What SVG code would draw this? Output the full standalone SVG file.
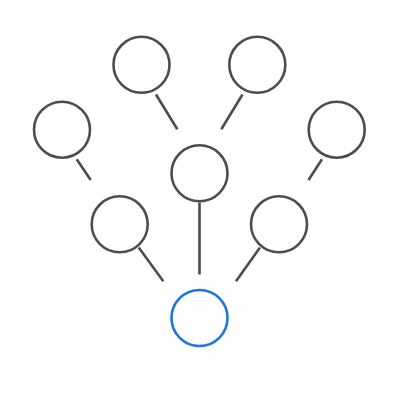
<svg xmlns="http://www.w3.org/2000/svg" width="400" height="400" viewBox="0 0 400 400">
<style>
.n{fill:#fff;stroke:#4d4d4d;stroke-width:2.6}
.root{fill:#fff;stroke:#1f74e0;stroke-width:2.6}
.e{stroke:#4d4d4d;stroke-width:2.6;stroke-linecap:butt}
</style>
<rect width="400" height="400" fill="#fff"/>
<g id="connectors">
<line class="e" x1="156" y1="94.5" x2="177.3" y2="129.3"/>
<line class="e" x1="242.5" y1="94.5" x2="221.3" y2="129.3"/>
<line class="e" x1="76.7" y1="159.3" x2="90.7" y2="180"/>
<line class="e" x1="322" y1="159.3" x2="308.5" y2="180"/>
<line class="e" x1="199.5" y1="202.5" x2="199.5" y2="274.5"/>
<line class="e" x1="138.7" y1="247.5" x2="163.3" y2="281.3"/>
<line class="e" x1="260" y1="247.5" x2="236" y2="281.3"/>
</g>
<g id="node-top-left"><circle class="n" cx="141.5" cy="64.8" r="28"/></g>
<g id="node-top-right"><circle class="n" cx="257.3" cy="64.8" r="28"/></g>
<g id="node-left"><circle class="n" cx="62" cy="129.7" r="28"/></g>
<g id="node-right"><circle class="n" cx="336.7" cy="129.7" r="28"/></g>
<g id="node-center"><circle class="n" cx="199.5" cy="173.3" r="28"/></g>
<g id="node-mid-left"><circle class="n" cx="119.7" cy="224.3" r="28"/></g>
<g id="node-mid-right"><circle class="n" cx="279" cy="224.3" r="28"/></g>
<g id="node-root"><circle class="root" cx="199.5" cy="318" r="28"/></g>
</svg>
